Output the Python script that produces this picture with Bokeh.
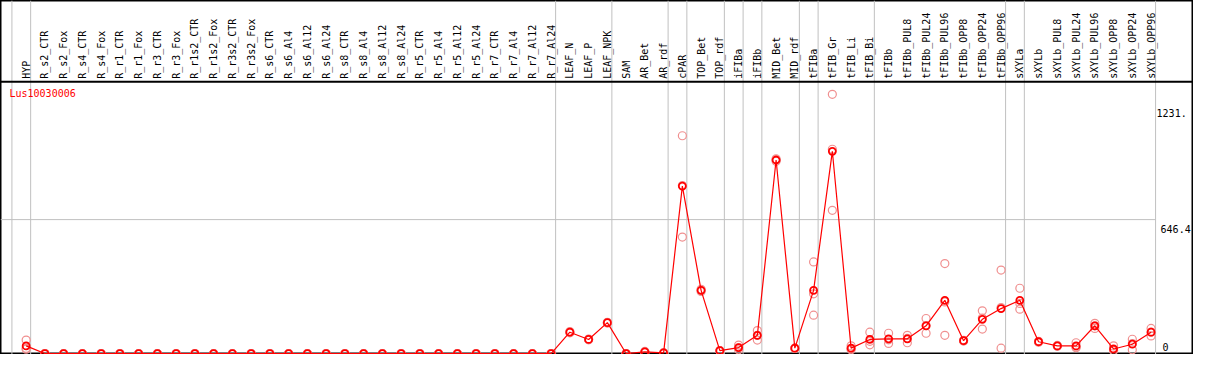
import math
from bokeh.plotting import figure
from bokeh.models import Range1d, Span, ColumnDataSource
from bokeh.core.properties import value
from bokeh.embed import file_html
from bokeh.resources import INLINE

# ---------------- data ----------------
categories = [
    "HYP",
    "R_s2_CTR", "R_s2_Fox", "R_s4_CTR", "R_s4_Fox", "R_r1_CTR", "R_r1_Fox",
    "R_r3_CTR", "R_r3_Fox", "R_r1s2_CTR", "R_r1s2_Fox", "R_r3s2_CTR", "R_r3s2_Fox",
    "R_s6_CTR", "R_s6_Al4", "R_s6_Al12", "R_s6_Al24",
    "R_s8_CTR", "R_s8_Al4", "R_s8_Al12", "R_s8_Al24",
    "R_r5_CTR", "R_r5_Al4", "R_r5_Al12", "R_r5_Al24",
    "R_r7_CTR", "R_r7_Al4", "R_r7_Al12", "R_r7_Al24",
    "LEAF_N", "LEAF_P", "LEAF_NPK",
    "SAM", "AR_Bet", "AR_rdf",
    "cPAR",
    "TOP_Bet", "TOP_rdf",
    "iFIBa",
    "iFIBb",
    "MID_Bet", "MID_rdf",
    "tFIBa",
    "tFIB_Gr", "tFIB_Li", "tFIB_Bi",
    "tFIBb", "tFIBb_PUL8", "tFIBb_PUL24", "tFIBb_PUL96",
    "tFIBb_OPP8", "tFIBb_OPP24", "tFIBb_OPP96",
    "sXYLa",
    "sXYLb", "sXYLb_PUL8", "sXYLb_PUL24", "sXYLb_PUL96",
    "sXYLb_OPP8", "sXYLb_OPP24", "sXYLb_OPP96",
]
group_sizes = [1, 28, 3, 3, 1, 2, 1, 1, 2, 1, 3, 7, 1, 7]

mean_values = (
    [37] + [0] * 28 +
    [103, 68, 149,
     0, 8, 3,
     808,
     305, 14,
     29,
     88,
     934, 26,
     305,
     976, 26, 68,
     71, 71, 134, 257, 62, 165, 217,
     257,
     57, 37, 37, 134, 22, 45, 103]
)
rep_a = (
    [65] + [0] * 28 +
    [103, 68, 149, 0, 10, 3, 1051, 305, 14, 41, 111, 940, 26, 442,
     1251, 37, 103, 98, 88, 169, 434, 62, 206, 403, 315,
     57, 37, 52, 146, 37, 69, 121]
)
rep_b = (
    [25] + [0] * 28 +
    [100, 66, 147, 0, 8, 3, 562, 300, 14, 28, 88, 934, 26, 288,
     691, 24, 59, 66, 73, 135, 249, 60, 171, 222, 242,
     55, 35, 31, 134, 14, 48, 103]
)
rep_c = (
    [21] + [0] * 28 +
    [106, 70, 151, 0, 6, 3, 811, 310, 14, 18, 65, 928, 26, 185,
     986, 18, 42, 49, 52, 98, 88, 64, 118, 26, 214,
     59, 39, 28, 121, 15, 18, 85]
)
gene_name = "Lus10030006"
tick_values = [0, 646.4, 1231.0]
tick_labels = ["0", "646.4", "1231."]

# ---------------- layout ----------------
W, H = 1193, 354
sx = W / 1209.0
sy = H / 370.0
step = 19.0 * sx
first = 26.0 * sx
x_start = -first / step
x_end = (W - first) / step
zero_px = 369.0 * sy
k = (zero_px - 229.0 * sy) / 646.4
y_start = (zero_px - H) / k
y_end = zero_px / k
header_px = 85.0 * sy

idx = list(range(len(categories)))

p = figure(width=W, height=H, output_backend="svg", toolbar_location=None,
           x_range=Range1d(x_start, x_end), y_range=Range1d(y_start, y_end),
           x_axis_location=None, y_axis_location=None,
           min_border=0, min_border_left=0, min_border_right=0,
           min_border_top=0, min_border_bottom=0)
p.extra_x_ranges = {"px": Range1d(0, W)}
p.extra_y_ranges = {"px": Range1d(H, 0)}
p.grid.visible = False
p.outline_line_color = "black"
p.outline_line_width = 2
p.background_fill_color = "white"
p.border_fill_color = "white"

# group separators
bounds = [-1]
acc = -1
for g in group_sizes:
    acc += g
    bounds.append(acc)
sep_off = 0.24
for b in bounds:
    p.add_layout(Span(location=b + sep_off, dimension="height",
                      line_color="#c0c0c0", line_width=1, level="underlay"))

# horizontal grid at middle tick
p.segment(x0=[x_start], x1=[bounds[-1] + sep_off], y0=[tick_values[1]], y1=[tick_values[1]],
          line_color="#c0c0c0", line_width=1)

# header separator
p.add_layout(Span(location=header_px, dimension="width", y_range_name="px",
                  line_color="black", line_width=2))

mono = value("DejaVu Sans Mono")

# header labels
p.text(x=idx, y=[header_px - 3] * len(idx), text=categories, y_range_name="px",
       angle=math.pi / 2, text_align="left", text_baseline="middle",
       text_font=mono, text_font_size="10px", text_color="black")

# gene name
p.text(x=[9], y=[97 * sy], text=[gene_name], x_range_name="px", y_range_name="px",
       text_align="left", text_baseline="middle", text_font=mono,
       text_font_size="10px", text_color="red")

# y tick labels (right side), x in pixel space
lab_x = (bounds[-1] + sep_off) * step + first + 5
p.text(x=[lab_x - 4], y=[tick_values[2]], text=[tick_labels[2]], x_range_name="px",
       text_align="left", text_baseline="top", y_offset=11,
       text_font=mono, text_font_size="10px", text_color="black")
p.text(x=[lab_x], y=[tick_values[1]], text=[tick_labels[1]], x_range_name="px",
       text_align="left", text_baseline="top", y_offset=5,
       text_font=mono, text_font_size="10px", text_color="black")
p.text(x=[lab_x + 2], y=[tick_values[0]], text=[tick_labels[0]], x_range_name="px",
       text_align="left", text_baseline="bottom", y_offset=-3,
       text_font=mono, text_font_size="10px", text_color="black")

# replicates
for reps in (rep_a, rep_b, rep_c):
    p.scatter(x=idx, y=reps, marker="circle", size=8, fill_color=None,
              line_color="#f09090", line_width=1.2)

# mean line + markers
src = ColumnDataSource(dict(x=idx, y=mean_values))
p.line("x", "y", source=src, line_color="red", line_width=1.2)
p.scatter("x", "y", source=src, marker="circle", size=7, fill_color=None,
          line_color="red", line_width=1.8)

open("out.html", "w").write(file_html(p, INLINE))
